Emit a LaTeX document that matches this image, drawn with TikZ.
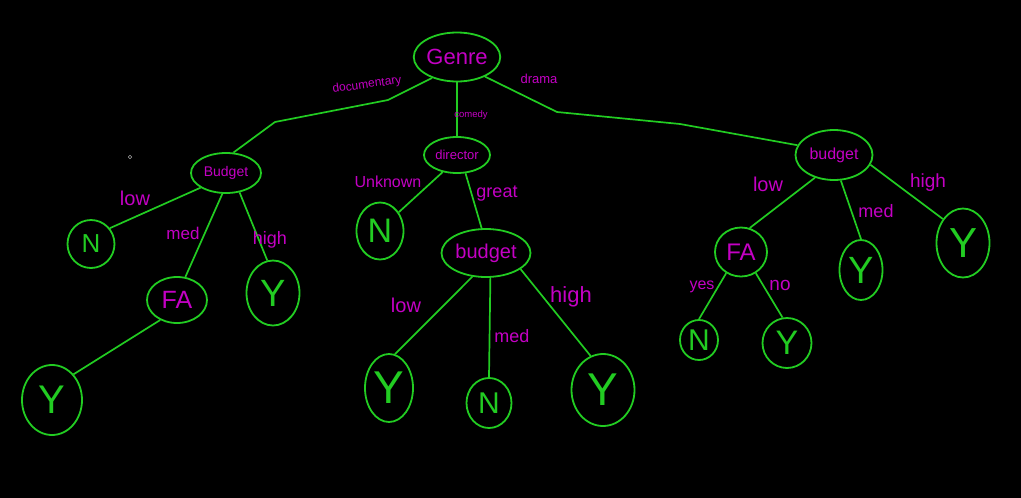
\documentclass[tikz,border=0pt]{standalone}
\usepackage{fontspec}
\setmainfont{Liberation Sans}
\usepackage{tikz}
\usetikzlibrary{shapes.geometric}
\definecolor{penGreen}{RGB}{34,204,34}
\definecolor{penMagenta}{RGB}{196,0,196}
\newcommand{\fsz}[1]{\fontsize{#1}{#1}\selectfont}

\begin{document}
\begin{tikzpicture}[
        x=1pt, y=-1pt,
        test/.style={ellipse, draw=penGreen, line width=1.8pt, inner sep=0pt, text=penMagenta},
        leaf/.style={ellipse, draw=penGreen, line width=1.8pt, inner sep=0pt, text=penGreen},
        lbl/.style={text=penMagenta, inner sep=0pt},
        branch/.style={draw=penGreen, line width=1.7pt, line join=round}
    ]
        \fill[black] (0,0) rectangle (1021,498);
        \useasboundingbox (0,0) rectangle (1021,498);

        % inner nodes
        \node[test, minimum width=79pt, minimum height=49pt, font=\fsz{22}] (genre) at (457,57) {Genre};
        \node[test, minimum width=70pt, minimum height=40pt, font=\fsz{14}] (budgetA) at (226,173) {Budget};
        \node[test, minimum width=66pt, minimum height=36pt, font=\fsz{13}] (director) at (457,155) {director};
        \node[test, minimum width=89pt, minimum height=48pt, font=\fsz{20}] (budgetB) at (486,253) {budget};
        \node[test, minimum width=77pt, minimum height=50pt, font=\fsz{16}] (budgetC) at (834,155) {budget};
        \node[test, minimum width=60pt, minimum height=46pt, font=\fsz{25}] (faA) at (177,300) {FA};
        \node[test, minimum width=52pt, minimum height=49pt, font=\fsz{24}] (faC) at (741,252) {FA};

        % leaves
        \node[leaf, minimum width=47pt, minimum height=48pt, font=\fsz{26}] (nA) at (91,244) {N};
        \node[leaf, minimum width=53pt, minimum height=65pt, font=\fsz{38}] (yA) at (273,293) {Y};
        \node[leaf, minimum width=60pt, minimum height=70pt, font=\fsz{40}] (yFA) at (52,400) {Y};
        \node[leaf, minimum width=47pt, minimum height=57pt, font=\fsz{34}] (nDir) at (380,231) {N};
        \node[leaf, minimum width=48pt, minimum height=68pt, font=\fsz{46}] (yBlow) at (389,388) {Y};
        \node[leaf, minimum width=45pt, minimum height=50pt, font=\fsz{30}] (nBmed) at (489,403) {N};
        \node[leaf, minimum width=63pt, minimum height=72pt, font=\fsz{46}] (yBhigh) at (603,390) {Y};
        \node[leaf, minimum width=38pt, minimum height=40pt, font=\fsz{30}] (nFAyes) at (699,340) {N};
        \node[leaf, minimum width=49pt, minimum height=50pt, font=\fsz{34}] (yFAno) at (787,343) {Y};
        \node[leaf, minimum width=43pt, minimum height=60pt, font=\fsz{38}] (yCmed) at (861,270) {Y};
        \node[leaf, minimum width=53pt, minimum height=69pt, font=\fsz{42}] (yChigh) at (963,243) {Y};

        % bends of the long branches
        \coordinate (docA) at (388,100);
        \coordinate (docB) at (275,122);
        \coordinate (draA) at (557,112);
        \coordinate (draB) at (680,124);

        \draw[branch] (genre.-140) -- (docA) -- (docB) -- (budgetA.70);
        \draw[branch] (genre.south) -- (director.north);
        \draw[branch] (genre.-35) -- (draA) -- (draB) -- (budgetC.165);

        \draw[branch] (budgetA.-150) -- (nA.40);
        \draw[branch] (budgetA.-100) -- (faA.70);
        \draw[branch] (budgetA.-55) -- (yA.100);
        \draw[branch] (faA.-130) -- (yFA.50);

        \draw[branch] (director.-130) -- (nDir.45);
        \draw[branch] (director.-65) -- (budgetB.100);
        \draw[branch] (budgetB.-120) -- (yBlow.80);
        \draw[branch] (budgetB.-80) -- (nBmed.north);
        \draw[branch] (budgetB.-25) -- (yBhigh.110);

        \draw[branch] (budgetC.-130) -- (faC.70);
        \draw[branch] (budgetC.-75) -- (yCmed.north);
        \draw[branch] (budgetC.-15) -- (yChigh.130);
        \draw[branch] (faC.-125) -- (nFAyes.north);
        \draw[branch] (faC.-55) -- (yFAno.100);

        % branch labels
        \node[lbl, font=\fsz{12}, rotate=8] (lDoc) at (367,85) {documentary};
        \node[lbl, font=\fsz{9.5}] (lCom) at (471,115) {comedy};
        \node[lbl, font=\fsz{13}] (lDra) at (539,79) {drama};

        \node[lbl, font=\fsz{20}] (lLowA) at (135,198) {low};
        \node[lbl, font=\fsz{17}] (lMedA) at (183,233) {med};
        \node[lbl, font=\fsz{18}] (lHighA) at (270,240) {high};

        \node[lbl, font=\fsz{16}] (lUnk) at (388,182) {Unknown};
        \node[lbl, font=\fsz{18}] (lGreat) at (497,194) {great};
        \node[lbl, font=\fsz{20}] (lLowB) at (406,305) {low};
        \node[lbl, font=\fsz{18}] (lMedB) at (512,336) {med};
        \node[lbl, font=\fsz{22}] (lHighB) at (571,297) {high};

        \node[lbl, font=\fsz{20}] (lLowC) at (768,184) {low};
        \node[lbl, font=\fsz{16}] (lYes) at (702,287) {yes};
        \node[lbl, font=\fsz{19}] (lNo) at (780,285) {no};
        \node[lbl, font=\fsz{18}] (lMedC) at (876,211) {med};
        \node[lbl, font=\fsz{19}] (lHighC) at (928,183) {high};

        \draw[gray!70, line width=0.6pt] (130,157) circle (1.8);
\end{tikzpicture}
\end{document}
